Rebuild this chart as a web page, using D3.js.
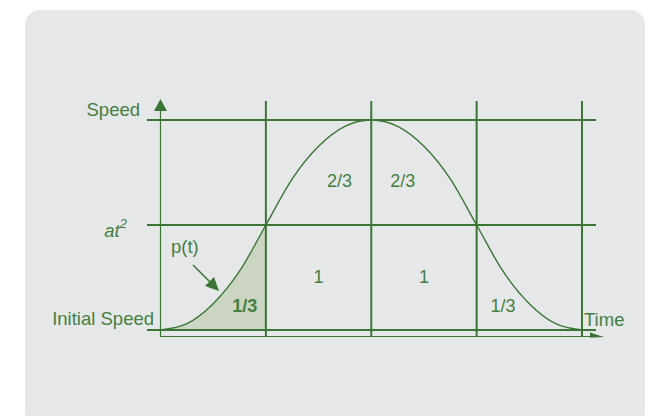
<!DOCTYPE html>
<html>
<head>
<meta charset="utf-8">
<script src="https://cdn.jsdelivr.net/npm/d3@7"></script>
<style>
  body { margin: 0; background: #fff; }
  svg { display: block; font-family: "Liberation Sans", Arial, sans-serif; }
</style>
</head>
<body>
<svg id="chart" width="657" height="416"></svg>
<script>
// speed profile (time in phases, speed in at^2 units)
var times = [0, 0.25, 0.5, 0.75, 1, 1.25, 1.5, 1.75, 2, 2.25, 2.5, 2.75, 3, 3.25, 3.5, 3.75, 4];
var speeds = [0, 0.06, 0.25, 0.56, 1, 1.44, 1.75, 1.94, 2, 1.94, 1.75, 1.44, 1, 0.56, 0.25, 0.06, 0];

var phaseEdges = [1, 2, 3, 4];
var speedLevels = [0, 1, 2];

var upperLabels = ["1/3", "2/3", "2/3", "1/3"];
var lowerLabels = ["1", "1"];

var lineColor = "#3b7635";
var textColor = "#448040";

(function () {
  var svg = d3.select("#chart");

  // card
  svg.append("rect")
    .attr("x", 25).attr("y", 10)
    .attr("width", 620).attr("height", 416)
    .attr("rx", 15)
    .attr("fill", "#e6e7e9");

  var x = d3.scaleLinear().domain([0, 4]).range([160.5, 582]);
  var y = d3.scaleLinear().domain([0, 2]).range([330, 120]);

  var pts = times.map(function (t, i) { return { t: t, s: speeds[i] }; });

  // shaded first phase
  var firstPhase = pts.filter(function (d) { return d.t <= 1; });
  svg.append("path")
    .datum(firstPhase)
    .attr("fill", "#cbd5c1")
    .attr("d", d3.area()
      .x(function (d) { return x(d.t); })
      .y0(y(0))
      .y1(function (d) { return y(d.s); })
      .curve(d3.curveMonotoneX));

  // horizontal grid lines
  svg.selectAll(".hline")
    .data(speedLevels)
    .enter().append("line")
    .attr("x1", 147).attr("x2", 596)
    .attr("y1", function (d) { return y(d); })
    .attr("y2", function (d) { return y(d); })
    .attr("stroke", lineColor)
    .attr("stroke-width", 2.2);

  // vertical phase lines
  svg.selectAll(".vline")
    .data(phaseEdges)
    .enter().append("line")
    .attr("x1", function (d) { return x(d); })
    .attr("x2", function (d) { return x(d); })
    .attr("y1", 101).attr("y2", 337)
    .attr("stroke", lineColor)
    .attr("stroke-width", 2);

  // thin axes
  svg.append("line")
    .attr("x1", x(0)).attr("x2", x(0))
    .attr("y1", 108).attr("y2", 337)
    .attr("stroke", lineColor).attr("stroke-width", 1.2);
  svg.append("line")
    .attr("x1", x(0)).attr("x2", 596)
    .attr("y1", 336.5).attr("y2", 336.5)
    .attr("stroke", lineColor).attr("stroke-width", 1.2);

  // axis arrowheads
  svg.append("path")
    .attr("d", "M" + x(0) + ",99 L" + (x(0) + 6.5) + ",111 L" + (x(0) - 6.5) + ",111 Z")
    .attr("fill", lineColor);
  svg.append("path")
    .attr("d", "M590,332.5 L604,337 L590,337.8 Z")
    .attr("fill", lineColor);

  // speed curve
  svg.append("path")
    .datum(pts)
    .attr("fill", "none")
    .attr("stroke", lineColor)
    .attr("stroke-width", 1.4)
    .attr("d", d3.line()
      .x(function (d) { return x(d.t); })
      .y(function (d) { return y(d.s); })
      .curve(d3.curveMonotoneX));

  // axis texts
  function label(txt, px, py, anchor) {
    return svg.append("text")
      .attr("x", px).attr("y", py)
      .attr("text-anchor", anchor || "start")
      .attr("fill", textColor)
      .style("font-size", "18.5px")
      .text(txt);
  }

  label("Speed", 140, y(2) - 4, "end");
  label("Initial Speed", 154, y(0) - 5, "end");
  label("Time", 584, 326, "start");

  var at = svg.append("text")
    .attr("x", 127).attr("y", y(1) + 12)
    .attr("text-anchor", "end")
    .attr("fill", textColor)
    .style("font-size", "18.5px")
    .style("font-style", "italic");
  at.append("tspan").text("at");
  at.append("tspan").attr("dy", -9).style("font-size", "13px").text("2");

  label("p(t)", 171, 253, "start");

  // p(t) pointer
  svg.append("line")
    .attr("x1", 193).attr("y1", 265)
    .attr("x2", 211).attr("y2", 283)
    .attr("stroke", lineColor).attr("stroke-width", 1.6);
  svg.append("path")
    .attr("d", "M219,291 L205,286 L214,277 Z")
    .attr("fill", lineColor);

  // area labels
  var upperT = [0.8, 1.7, 2.3, 3.25];
  svg.selectAll(".up")
    .data(upperLabels)
    .enter().append("text")
    .attr("x", function (d, i) { return x(upperT[i]); })
    .attr("y", function (d, i) { return (i == 0 || i == 3) ? 312 : 187; })
    .attr("text-anchor", "middle")
    .attr("fill", textColor)
    .style("font-size", "18px")
    .style("font-weight", function (d, i) { return i == 0 ? "bold" : "normal"; })
    .text(function (d) { return d; });

  svg.selectAll(".low")
    .data(lowerLabels)
    .enter().append("text")
    .attr("x", function (d, i) { return x(1.5 + i); })
    .attr("y", 283)
    .attr("text-anchor", "middle")
    .attr("fill", textColor)
    .style("font-size", "18px")
    .text(function (d) { return d; });
})();
</script>
</body>
</html>
